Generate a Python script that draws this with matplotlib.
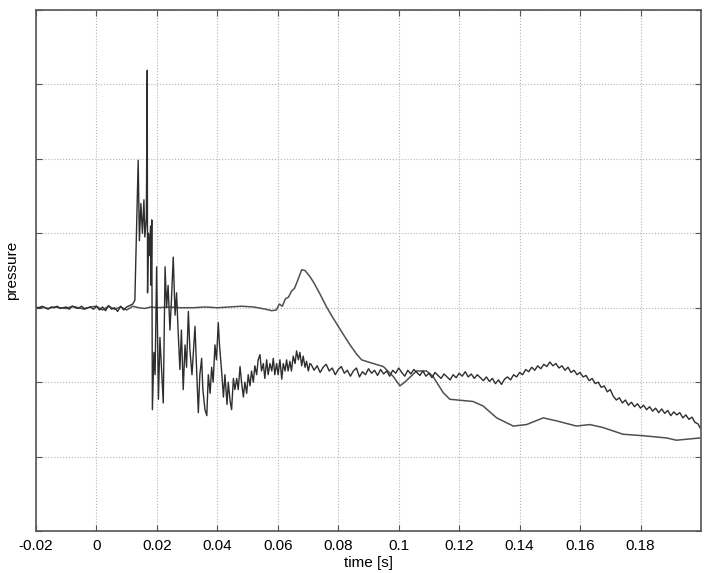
import matplotlib
matplotlib.use('Agg')
import matplotlib.pyplot as plt

# incident pressure (noisy trace)
t_inc = [-0.020, -0.019, -0.018, -0.017, -0.016, -0.015, -0.014, -0.013, -0.012, -0.011,
         -0.010, -0.009, -0.008, -0.007, -0.006, -0.005, -0.004, -0.003, -0.002, -0.001,
         0.000, 0.001, 0.002, 0.003, 0.004, 0.005, 0.006, 0.007, 0.008, 0.009,
         0.010, 0.011, 0.012, 0.0127,
         0.0138, 0.0142, 0.0147, 0.0152, 0.0157, 0.0160, 0.0165, 0.0168, 0.0169, 0.0172,
         0.0175, 0.0179, 0.0181, 0.0183, 0.0185, 0.0190, 0.0194, 0.0199, 0.0205, 0.0210,
         0.0215, 0.0221, 0.0227, 0.0232, 0.0237, 0.0243, 0.0248, 0.0254, 0.0260, 0.0265,
         0.0270, 0.0276, 0.0281, 0.0287, 0.0293, 0.0298, 0.0304, 0.0309, 0.0316, 0.0326,
         0.0331, 0.0337, 0.0342, 0.0348, 0.0352, 0.0359, 0.0365, 0.0370, 0.0376, 0.0381,
         0.0386, 0.0392, 0.0397, 0.0403, 0.0407, 0.0414, 0.0420, 0.0425, 0.0432, 0.0436,
         0.0442, 0.0447, 0.0453, 0.0458, 0.0464, 0.0469, 0.0475, 0.0480, 0.0486, 0.0491,
         0.0497, 0.0502, 0.0508, 0.0513, 0.0519, 0.0524, 0.0530, 0.0535, 0.0541, 0.0546,
         0.0552, 0.0557, 0.0563, 0.0568, 0.0574, 0.0580, 0.0585, 0.0590, 0.0596, 0.0601,
         0.0607, 0.0613, 0.0618, 0.0624, 0.0629, 0.0634, 0.0640, 0.0645, 0.0651, 0.0657,
         0.0662, 0.0668, 0.0673, 0.0679, 0.0684, 0.0690, 0.0695, 0.0701, 0.0706,
         0.071, 0.072, 0.073, 0.074, 0.075, 0.076, 0.077, 0.078, 0.079, 0.080,
         0.081, 0.082, 0.083, 0.084, 0.085, 0.086, 0.087, 0.088, 0.089, 0.090,
         0.091, 0.092, 0.093, 0.094, 0.095, 0.096, 0.097, 0.098, 0.099, 0.100,
         0.101, 0.102, 0.103, 0.104, 0.105, 0.106, 0.107, 0.108, 0.109, 0.110,
         0.111, 0.112, 0.113, 0.114, 0.115, 0.116, 0.117, 0.118, 0.119, 0.120,
         0.121, 0.122, 0.123, 0.124, 0.125, 0.126, 0.127, 0.128, 0.129, 0.130,
         0.131, 0.132, 0.133, 0.134, 0.135, 0.136, 0.137, 0.138, 0.139, 0.140,
         0.141, 0.142, 0.143, 0.144, 0.145, 0.146, 0.147, 0.148, 0.149, 0.150,
         0.151, 0.152, 0.153, 0.154, 0.155, 0.156, 0.157, 0.158, 0.159, 0.160,
         0.161, 0.162, 0.163, 0.164, 0.165, 0.166, 0.167, 0.168, 0.169, 0.170,
         0.171, 0.172, 0.173, 0.174, 0.175, 0.176, 0.177, 0.178, 0.179, 0.180,
         0.181, 0.182, 0.183, 0.184, 0.185, 0.186, 0.187, 0.188, 0.189, 0.190,
         0.191, 0.192, 0.193, 0.194, 0.195, 0.196, 0.197, 0.198, 0.199, 0.1998]
p_inc = [0.01, -0.01, 0.02, 0.00, -0.02, 0.01, 0.00, 0.02, -0.01, 0.00,
         0.01, -0.02, 0.02, 0.00, -0.01, 0.02, -0.01, 0.00, 0.01, -0.02,
         0.02, -0.03, 0.01, -0.04, 0.03, -0.02, 0.00, -0.05, 0.02, -0.03,
         0.01, 0.03, 0.05, 0.10,
         1.98, 0.90, 1.40, 1.00, 1.45, 0.95, 1.20, 3.19, 0.20, 1.00,
         0.70, 1.10, 0.30, 1.18, -1.37, -0.60, -0.90, 0.55, -1.23, -0.40,
         -0.80, -1.28, 0.55, 0.00, 0.30, -0.30, 0.10, 0.68, -0.10, 0.20,
         -0.30, -0.83, -0.30, -1.10, -0.50, -0.80, -0.05, -0.56, -0.90, -0.25,
         -0.80, -1.41, -0.90, -0.68, -1.10, -1.37, -1.45, -0.90, -1.15, -0.80,
         -1.00, -0.50, -0.70, -0.20, -0.50, -0.85, -1.20, -0.90, -1.30, -1.00,
         -1.25, -1.37, -0.95, -1.10, -0.95, -1.10, -0.79, -1.00, -1.20, -1.00,
         -1.15, -0.90, -1.05, -0.85, -1.00, -0.78, -0.90, -0.70, -0.63, -0.85,
         -0.75, -0.95, -0.70, -0.90, -0.75, -0.85, -0.68, -0.90, -0.75, -0.90,
         -0.70, -0.96, -0.75, -0.85, -0.70, -0.85, -0.72, -0.85, -0.65, -0.75,
         -0.58, -0.70, -0.60, -0.78, -0.65, -0.80, -0.72, -0.85, -0.75,
         -0.76, -0.84, -0.78, -0.87, -0.80, -0.76, -0.85, -0.81, -0.90, -0.83,
         -0.79, -0.88, -0.84, -0.92, -0.85, -0.81, -0.93, -0.86, -0.90, -0.82,
         -0.88, -0.84, -0.91, -0.83, -0.89, -0.85, -0.92, -0.84, -0.88, -0.81,
         -0.87, -0.92, -0.84, -0.89, -0.83, -0.87, -0.91, -0.85, -0.92, -0.88,
         -0.94, -0.87, -0.91, -0.95, -0.89, -0.93, -0.97, -0.90, -0.94, -0.88,
         -0.92, -0.86, -0.93, -0.89, -0.95, -0.90, -0.94, -0.98, -0.93, -0.99,
         -0.95, -1.02, -0.97, -1.03, -0.96, -0.93, -0.97, -0.90, -0.93, -0.87,
         -0.90, -0.83, -0.86, -0.80, -0.84, -0.78, -0.82, -0.76, -0.79, -0.73,
         -0.78, -0.75, -0.81, -0.78, -0.84, -0.80, -0.87, -0.84, -0.90, -0.87,
         -0.93, -0.91, -0.98, -0.95, -1.02, -1.00, -1.07, -1.05, -1.13, -1.10,
         -1.19, -1.24, -1.21, -1.28, -1.24, -1.31, -1.27, -1.33, -1.29, -1.35,
         -1.31, -1.37, -1.33, -1.39, -1.35, -1.41, -1.36, -1.42, -1.38, -1.45,
         -1.40, -1.44, -1.41, -1.48, -1.44, -1.50, -1.47, -1.54, -1.56, -1.62]

# reflected pressure (smoother trace)
t_ref = [-0.020, -0.018, -0.016, -0.014, -0.012, -0.010, -0.008, -0.006, -0.004, -0.002,
         0.000, 0.002, 0.004, 0.006, 0.008, 0.010, 0.012, 0.014, 0.016, 0.018,
         0.020, 0.024, 0.028, 0.032, 0.036, 0.040, 0.044, 0.048, 0.052, 0.056,
         0.058, 0.0595, 0.0605, 0.0615, 0.0625, 0.0635, 0.0645, 0.0655, 0.0665, 0.0679,
         0.0690, 0.0706, 0.0720, 0.0740, 0.0760, 0.0780, 0.0800, 0.0820, 0.0839, 0.0860,
         0.0877, 0.0900, 0.0949, 0.0981, 0.1004, 0.1020, 0.1059, 0.1092, 0.1113, 0.1147,
         0.1169, 0.1246, 0.1279, 0.1324, 0.1379, 0.1423, 0.1478, 0.1522, 0.1588, 0.1632,
         0.1676, 0.1742, 0.1809, 0.1886, 0.1919, 0.1996]
p_ref = [0.00, 0.01, -0.01, 0.01, 0.00, -0.01, 0.02, 0.00, -0.02, 0.01,
         0.02, -0.03, 0.02, -0.02, 0.01, -0.03, 0.02, 0.00, -0.01, 0.01,
         0.00, 0.01, 0.00, 0.00, 0.01, 0.00, 0.01, 0.02, 0.01, -0.02,
         -0.04, -0.03, 0.05, 0.02, 0.12, 0.14, 0.22, 0.26, 0.36, 0.51,
         0.50, 0.42, 0.33, 0.18, 0.02, -0.12, -0.25, -0.38, -0.50, -0.62,
         -0.70, -0.73, -0.79, -0.92, -1.05, -1.00, -0.85, -0.85, -0.92, -1.14,
         -1.23, -1.26, -1.32, -1.48, -1.59, -1.57, -1.48, -1.52, -1.59, -1.57,
         -1.61, -1.70, -1.72, -1.75, -1.78, -1.75]

xticks = [-0.02, 0, 0.02, 0.04, 0.06, 0.08, 0.1, 0.12, 0.14, 0.16, 0.18]
xticklabels = ['-0.02', '0', '0.02', '0.04', '0.06', '0.08', '0.1', '0.12', '0.14', '0.16', '0.18']
yticks = [-3, -2, -1, 0, 1, 2, 3, 4]

plt.rcParams['font.family'] = ['Liberation Sans', 'DejaVu Sans']

fig = plt.figure(figsize=(7.09, 5.73), dpi=100)
ax = fig.add_axes([0.0508, 0.0733, 0.9379, 0.9092])

ax.plot(t_ref, p_ref, color='#505050', linewidth=1.1)
ax.plot(t_inc, p_inc, color='#2e2e2e', linewidth=1.0)

ax.set_xlim(-0.02, 0.2)
ax.set_ylim(-3, 4)
ax.set_xticks(xticks)
ax.set_xticklabels(xticklabels)
ax.set_yticks(yticks)
ax.set_yticklabels([])
ax.tick_params(direction='in', top=True, right=True, length=4, width=0.8,
               color='#555555', labelsize=11, pad=6)
ax.grid(True, linestyle=':', color='#b4b4b4', linewidth=0.8)
for s in ax.spines.values():
    s.set_color('#555555')
    s.set_linewidth(1.2)

ax.set_xlabel('time [s]', fontsize=11, labelpad=2)
ax.set_ylabel('pressure', fontsize=11, labelpad=6)

fig.savefig('out.png', dpi=100)
